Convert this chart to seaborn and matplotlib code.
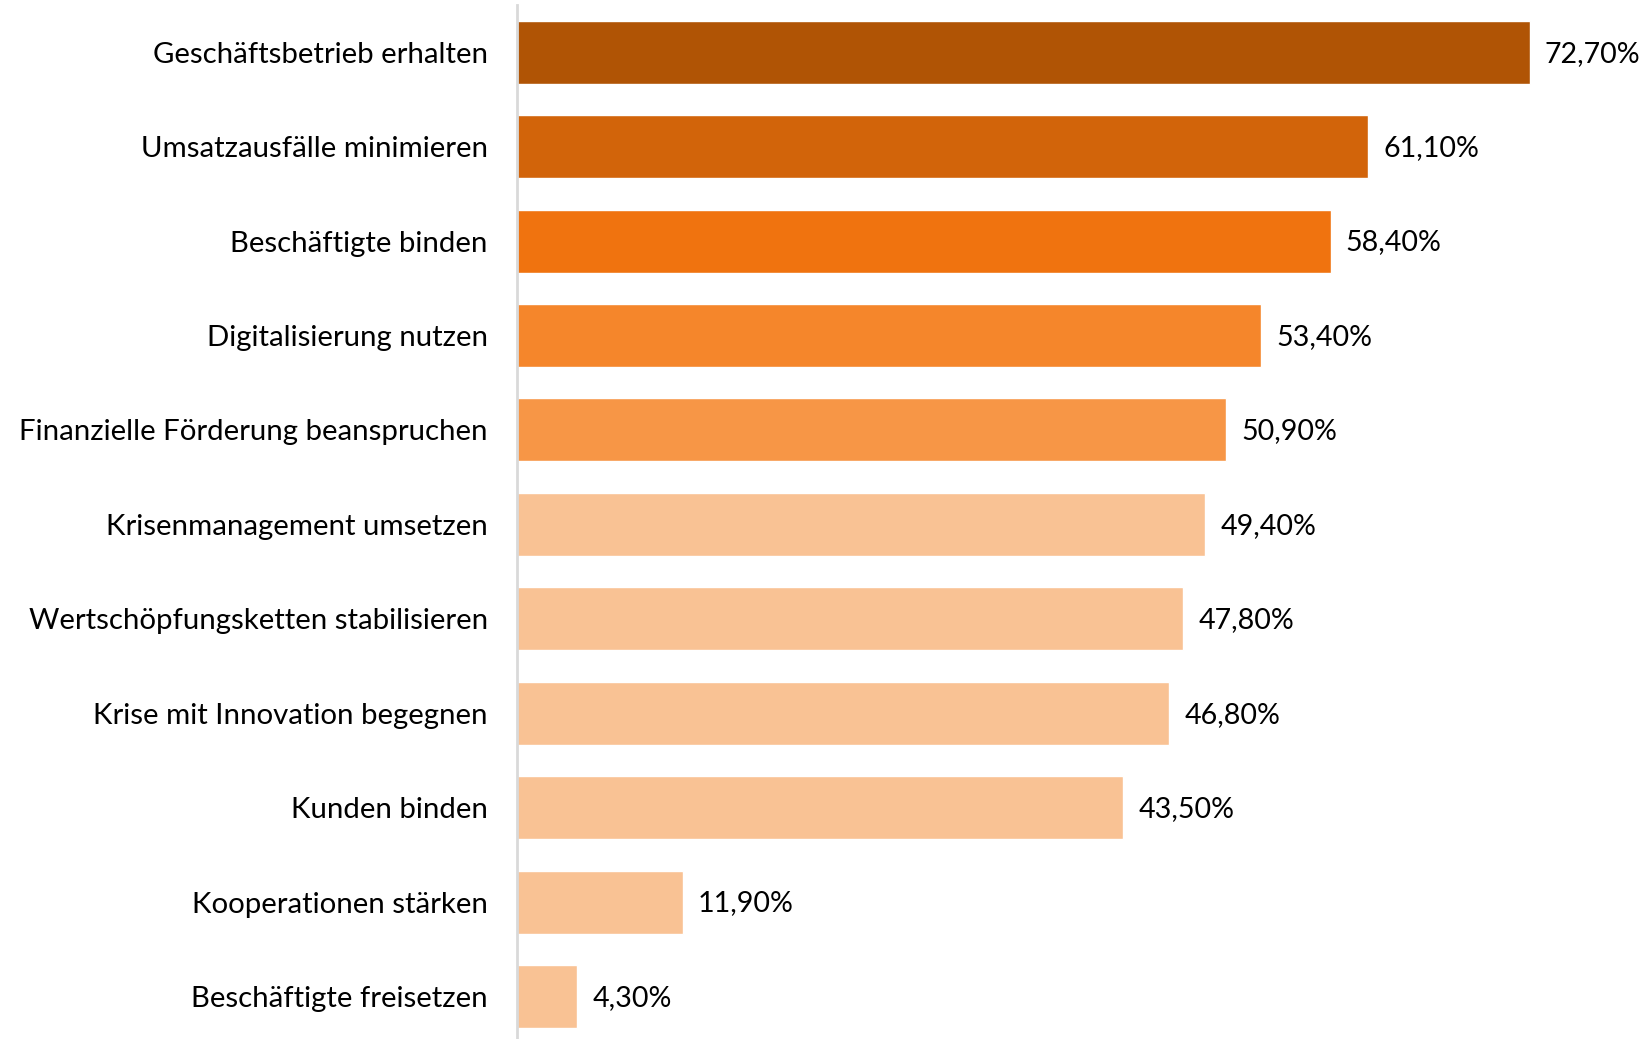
import matplotlib
matplotlib.use("Agg")
import matplotlib.pyplot as plt
import seaborn as sns
import pandas as pd

categories = [
    "Geschäftsbetrieb erhalten",
    "Umsatzausfälle minimieren",
    "Beschäftigte binden",
    "Digitalisierung nutzen",
    "Finanzielle Förderung beanspruchen",
    "Krisenmanagement umsetzen",
    "Wertschöpfungsketten stabilisieren",
    "Krise mit Innovation begegnen",
    "Kunden binden",
    "Kooperationen stärken",
    "Beschäftigte freisetzen",
]
values = [72.7, 61.1, 58.4, 53.4, 50.9, 49.4, 47.8, 46.8, 43.5, 11.9, 4.3]
value_labels = ["72,70%", "61,10%", "58,40%", "53,40%", "50,90%", "49,40%",
                "47,80%", "46,80%", "43,50%", "11,90%", "4,30%"]
colors = ["#B05405", "#D2640A", "#F0730F", "#F5862B", "#F79646",
          "#F9C294", "#F9C294", "#F9C294", "#F9C294", "#F9C294", "#F9C294"]

df = pd.DataFrame({"cat": categories, "val": values})

sns.set_theme(style="white")
plt.rcParams["font.family"] = ["Lato", "DejaVu Sans"]

fig = plt.figure(figsize=(16.48, 10.39), dpi=100)
ax = fig.add_axes([517 / 1648, 0.0, (1648 - 517) / 1648, 1 - 5 / 1039])

sns.barplot(data=df, y="cat", x="val", hue="cat", palette=colors,
            dodge=False, legend=False, width=0.667, saturation=1, ax=ax)

ax.set_xlim(0, (1648 - 517) / 13.93)
ax.set_ylim(10.45, -0.5)
ax.set_xlabel("")
ax.set_ylabel("")
ax.set_xticks([])
for s in ["top", "right", "bottom"]:
    ax.spines[s].set_visible(False)
ax.spines["left"].set_color("#D9D9D9")
ax.spines["left"].set_linewidth(2)
ax.tick_params(axis="y", length=0, pad=21, labelsize=21.2, labelcolor="black")
for t in ax.get_yticklabels():
    t.set_y(t.get_position()[1])

for i, (v, lab) in enumerate(zip(values, value_labels)):
    ax.annotate(lab, xy=(v, i), xytext=(11, -1), textcoords="offset points",
                va="center", ha="left", fontsize=20.6, color="black")

fig.savefig("out.png", dpi=100)
